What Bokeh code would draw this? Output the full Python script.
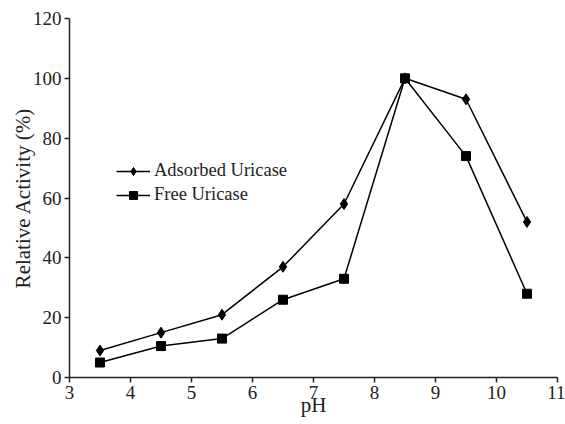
from bokeh.plotting import figure
from bokeh.models import Range1d, Legend, LegendItem, FixedTicker
from bokeh.embed import file_html
from bokeh.resources import INLINE

ph = [3.5, 4.5, 5.5, 6.5, 7.5, 8.5, 9.5, 10.5]
adsorbed = [9, 15, 21, 37, 58, 100, 93, 52]
free = [5, 10.5, 13, 26, 33, 100, 74, 28]
x_ticks = [3, 4, 5, 6, 7, 8, 9, 10, 11]
y_ticks = [0, 20, 40, 60, 80, 100, 120]

FONT = "Liberation Serif"

p = figure(width=565, height=424, output_backend="svg", toolbar_location=None,
           x_range=Range1d(3, 11), y_range=Range1d(0, 120),
           min_border_left=69, min_border_right=8, min_border_top=18, min_border_bottom=47)
p.outline_line_color = None
p.xgrid.visible = False
p.ygrid.visible = False

l1 = p.line(ph, adsorbed, line_color="black", line_width=1.5)
s1 = p.scatter(ph, adsorbed, marker="diamond", size=11, color="black")
l2 = p.line(ph, free, line_color="black", line_width=1.5)
s2 = p.scatter(ph, free, marker="square", size=9, color="black")

for ax, ticks in ((p.xaxis[0], x_ticks), (p.yaxis[0], y_ticks)):
    ax.ticker = FixedTicker(ticks=ticks)
    ax.minor_tick_line_color = None
    ax.major_tick_in = 0
    ax.major_tick_out = 5
    ax.axis_line_width = 1.5
    ax.major_tick_line_width = 1.5
    ax.axis_line_color = "#222222"
    ax.major_tick_line_color = "#222222"
    ax.major_label_text_font = FONT
    ax.major_label_text_font_size = "19px"
    ax.major_label_text_color = "#222222"
    ax.axis_label_text_font = FONT
    ax.axis_label_text_font_size = "21px"
    ax.axis_label_text_font_style = "normal"
    ax.axis_label_text_color = "#222222"

p.xaxis.axis_label = "pH"
p.yaxis.axis_label = "Relative Activity (%)"
p.xaxis.axis_label_standoff = -9
p.yaxis.axis_label_standoff = -5
p.xaxis.major_label_standoff = 3
p.yaxis.major_label_standoff = 3

legend = Legend(items=[LegendItem(label="Adsorbed Uricase", renderers=[l1, s1]),
                       LegendItem(label="Free Uricase", renderers=[l2, s2])],
                location=(47, 172), padding=0, margin=0, spacing=3,
                glyph_width=34, glyph_height=20, label_height=20, label_standoff=4,
                label_text_font=FONT, label_text_font_size="18.5px", label_text_color="#222222",
                border_line_color=None, background_fill_alpha=0)
p.add_layout(legend, "center")

open("out.html", "w").write(file_html(p, INLINE))
